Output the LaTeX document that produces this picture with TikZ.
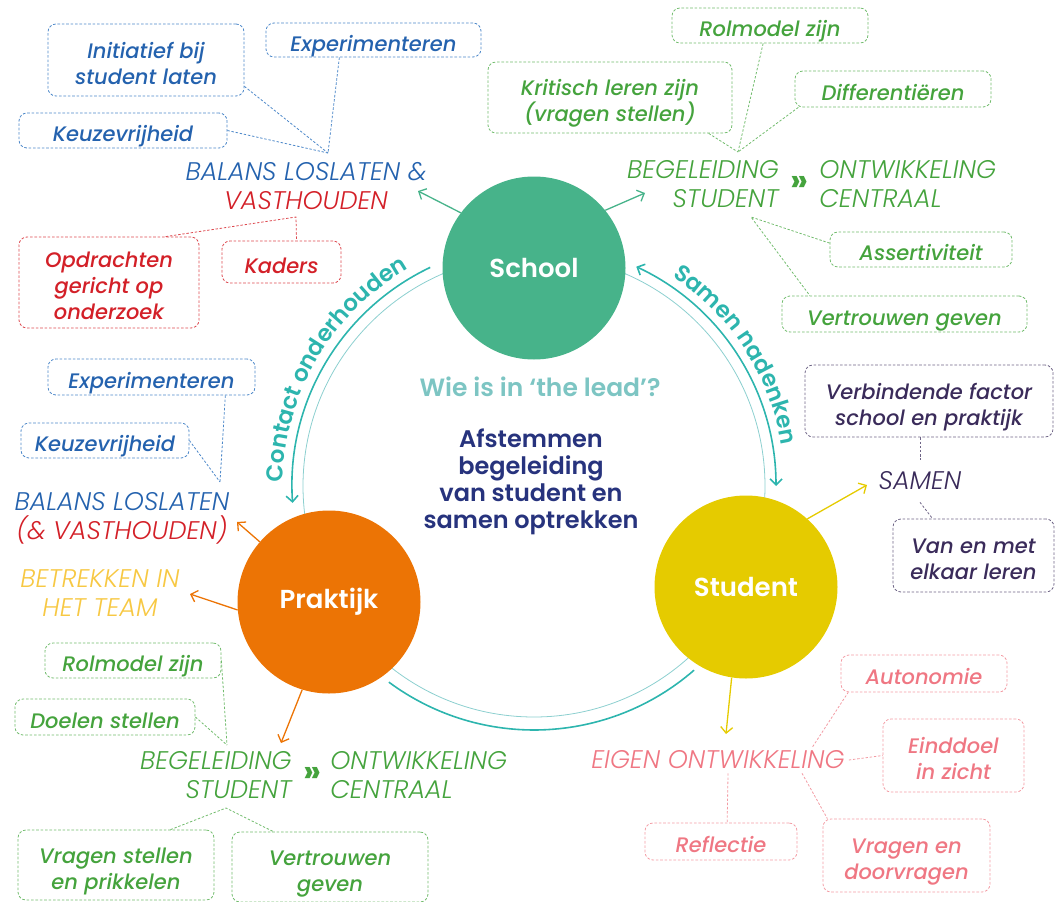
\documentclass[tikz,border=0pt]{standalone}
\usepackage{fontspec}
\setmainfont{Poppins}
\newfontfamily\lightfont{Poppins Light}[ItalicFont={Poppins Light Italic}]
\newfontfamily\semifont{Poppins SemiBold}
\newfontfamily\boxfont{Poppins Medium Italic}
\usetikzlibrary{arrows.meta,positioning,decorations.text}

\definecolor{tagblue}{HTML}{2462AE}
\definecolor{tagblueline}{HTML}{4D88C9}
\definecolor{tagred}{HTML}{D32028}
\definecolor{tagredline}{HTML}{DD4A50}
\definecolor{taggreen}{HTML}{45A33D}
\definecolor{taggreenline}{HTML}{72BC6D}
\definecolor{tagpink}{HTML}{EF7783}
\definecolor{tagpinkline}{HTML}{F39BA3}
\definecolor{tagpurple}{HTML}{3A2B5A}
\definecolor{tagpurpleline}{HTML}{6E6486}
\definecolor{teamyellow}{HTML}{F7C843}
\definecolor{arcteal}{HTML}{2DB5AE}
\definecolor{ringteal}{HTML}{8CCFCF}
\definecolor{leadteal}{HTML}{7DC5C3}
\definecolor{aimnavy}{HTML}{27337D}
\definecolor{schoolgreen}{HTML}{47B38A}
\definecolor{studentyellow}{HTML}{E5CB00}
\definecolor{praktijkorange}{HTML}{EC7405}

\newcommand{\arcfont}{\semifont\fontsize{23}{23}\selectfont}

\begin{document}
\begin{tikzpicture}[x=1pt,y=-1pt,
    notebox/.style={draw, dash pattern=on 2.6pt off 1.8pt, line width=0.8pt, rounded corners=8pt,
      align=center, inner sep=0pt, text height=22pt, text depth=0pt, font=\boxfont\fontsize{21}{26}\selectfont},
    twolines/.style={text height=48pt},
    threelines/.style={text height=74pt},
    bluebox/.style={notebox, draw=tagblueline, text=tagblue},
    redbox/.style={notebox, draw=tagredline, text=tagred},
    greenbox/.style={notebox, draw=taggreenline, text=taggreen},
    pinkbox/.style={notebox, draw=tagpinkline, text=tagpink},
    purplebox/.style={notebox, draw=tagpurpleline, text=tagpurple},
    boxsize/.style 2 args={minimum width=#1, minimum height=#2},
    link/.style={dash pattern=on 2.4pt off 1.8pt, line width=0.8pt},
    heading/.style={font=\lightfont\itshape\fontsize{25.5}{29}\selectfont, inner sep=0pt, align=center},
    hub/.style={circle, minimum size=183pt, inner sep=0pt, text=white, font=\fontsize{26}{30}\selectfont\semifont},
    pointer/.style={-{Straight Barb[length=6pt,width=12pt]}, line width=1.3pt},
    arcline/.style={draw=arcteal, line width=1.6pt},
    chevron/.style={font=\fontsize{32}{32}\selectfont\bfseries, text=taggreen, inner sep=0pt}
  ]
  \useasboundingbox (0,0) rectangle (1055,902);

  % ring and arcs
  \coordinate (ring) at (534,486);
  \draw[ringteal, line width=0.8pt] (ring) circle[radius=231];
  \draw[arcline, -{Straight Barb[length=6pt,width=12pt]}] (ring) ++(-115.4:242) arc[start angle=-115.4, end angle=-184, radius=242];
  \draw[arcline, {Straight Barb[length=6pt,width=12pt]}-{Straight Barb[length=6pt,width=12pt]}] (ring) ++(-65:242) arc[start angle=-65, end angle=0, radius=242];
  \draw[arcline] (ring) ++(126.5:244) arc[start angle=126.5, end angle=49, radius=244];
  \path[decorate, decoration={text along path, text align=center, text color=arcteal,
      text={|\arcfont|Contact onderhouden}}]
    (ring) ++(-189.5:251) arc[start angle=-189.5, end angle=-109.5, radius=251];
  \path[decorate, decoration={text along path, text align=center, text color=arcteal,
      text={|\arcfont|Samen nadenken}}]
    (ring) ++(-73:251) arc[start angle=-73, end angle=7, radius=251];

  % the three partners
  \node[hub, fill=schoolgreen] (school) at (534,268) {School};
  \node[hub, fill=studentyellow] (student) at (746,587) {Student};
  \node[hub, fill=praktijkorange] (praktijk) at (329,602) {Praktijk};

  % centre
  \node[font=\fontsize{25}{27}\selectfont\semifont, text=leadteal] (lead) at (540,387) {Wie is in ‘the lead’?};
  \node[font=\fontsize{24}{27}\selectfont\semifont, text=aimnavy, align=center] (aim) at (531,482)
    {Afstemmen\\begeleiding\\van student en\\samen optrekken};

  % school, left
  \node[heading] (balansA) at (306,186) {\textcolor{tagblue}{BALANS LOSLATEN \&}\\\textcolor{tagred}{VASTHOUDEN}};
  \node[bluebox, twolines, boxsize={196pt}{72pt}] (ini) at (146,60) {Initiatief bij\\student laten};
  \node[bluebox, boxsize={215pt}{34pt}] (expA) at (373.5,40) {Experimenteren};
  \node[bluebox, boxsize={208pt}{35pt}] (keuA) at (123,130.5) {Keuzevrijheid};
  \node[redbox, threelines, boxsize={180pt}{91pt}] (opd) at (109,282.5) {Opdrachten\\gericht op\\onderzoek};
  \node[redbox, boxsize={119pt}{42pt}] (kad) at (281.5,262) {Kaders};
  \coordinate (blueknotA) at (328,153);
  \coordinate (redknot) at (296,217);
  \draw[link, tagblueline] (ini.-15) -- (blueknotA);
  \draw[link, tagblueline] (expA.207) -- (blueknotA);
  \draw[link, tagblueline] (keuA.east) -- (blueknotA);
  \draw[link, tagredline] (opd.39) -- (redknot) -- (kad.55);
  \coordinate (balansAtip) at (418,191);
  \draw[pointer, schoolgreen] (school.143) -- (balansAtip);

  % school, right
  \node[chevron] (chevA) at (799,184) {»};
  \node[heading, text=taggreen, align=right, left=11pt of chevA] (begA) {BEGELEIDING\\STUDENT};
  \node[heading, text=taggreen, align=left, right=11pt of chevA] (ontA) {ONTWIKKELING\\CENTRAAL};
  \node[greenbox, boxsize={196pt}{35pt}] (rolA) at (770,25.5) {Rolmodel zijn};
  \node[greenbox, twolines, boxsize={244pt}{71pt}] (krit) at (610,97.5) {Kritisch leren zijn\\(vragen stellen)};
  \node[greenbox, boxsize={196pt}{36pt}] (diff) at (893,89) {Differentiëren};
  \node[greenbox, boxsize={182pt}{35pt}] (ass) at (921,249.5) {Assertiviteit};
  \node[greenbox, boxsize={245pt}{36pt}] (vert) at (904.5,314) {Vertrouwen geven};
  \coordinate (greenknotA) at (738,152);
  \coordinate (greenknotB) at (751,217);
  \draw[link, taggreenline] (rolA.-111) -- (greenknotA);
  \draw[link, taggreenline] (krit.-20.7) -- (greenknotA);
  \draw[link, taggreenline] (diff.191) -- (greenknotA);
  \draw[link, taggreenline] (ass.176) -- (greenknotB) -- (vert.169);
  \coordinate (begAtip) at (645,193);
  \draw[pointer, schoolgreen] (school.39) -- (begAtip);

  % praktijk
  \node[heading] (balansB) at (122,518) {\textcolor{tagblue}{BALANS LOSLATEN}\\\textcolor{tagred}{(\& VASTHOUDEN)}};
  \node[heading, text=teamyellow] (team) at (100,593) {BETREKKEN IN\\HET TEAM};
  \node[bluebox, boxsize={207pt}{36pt}] (expB) at (151.5,377) {Experimenteren};
  \node[bluebox, boxsize={168pt}{35pt}] (keuB) at (105,440.5) {Keuzevrijheid};
  \coordinate (blueknotB) at (220,482);
  \draw[link, tagblueline] (expB.-14.7) -- (blueknotB);
  \draw[link, tagblueline] (keuB.east) -- (blueknotB);
  \coordinate (balansBtip) at (237,522);
  \coordinate (teamtip) at (190,594);
  \draw[pointer, praktijkorange] (praktijk.139) -- (balansBtip);
  \draw[pointer, praktijkorange] (praktijk.185) -- (teamtip);

  \node[chevron] (chevB) at (312,775) {»};
  \node[heading, text=taggreen, align=right, left=11pt of chevB] (begB) {BEGELEIDING\\STUDENT};
  \node[heading, text=taggreen, align=left, right=9pt of chevB] (ontB) {ONTWIKKELING\\CENTRAAL};
  \node[greenbox, boxsize={176pt}{35pt}] (rolB) at (133,660.5) {Rolmodel zijn};
  \node[greenbox, boxsize={180pt}{36pt}] (doel) at (105,717) {Doelen stellen};
  \node[greenbox, twolines, boxsize={196pt}{70pt}] (vrst) at (116,865) {Vragen stellen\\en prikkelen};
  \node[greenbox, twolines, boxsize={196pt}{70pt}] (vrtr) at (330,867) {Vertrouwen\\geven};
  \coordinate (greenknotC) at (227,745);
  \coordinate (greenknotD) at (226,808);
  \draw[link, taggreenline] (rolB.east) -- (greenknotC);
  \draw[link, taggreenline] (doel.east) -- (greenknotC);
  \draw[link, taggreenline] (vrst.33) -- (greenknotD) -- (vrtr.148);
  \coordinate (begBtip) at (281,743);
  \draw[pointer, praktijkorange] (praktijk.-107) -- (begBtip);

  % student
  \node[heading, text=tagpurple, inner sep=12pt] (samen) at (920,481) {SAMEN};
  \node[purplebox, twolines, boxsize={248pt}{72pt}] (verb) at (929,401) {Verbindende factor\\school en praktijk};
  \node[purplebox, twolines, boxsize={161pt}{73pt}] (vanen) at (973.5,555.5) {Van en met\\elkaar leren};
  \draw[link, tagpurpleline] (samen.north |- verb.south) -- (samen.north);
  \draw[link, tagpurpleline] (samen.south) -- (vanen.138);
  \coordinate (samentip) at (867,485);
  \draw[pointer, studentyellow] (student.48) -- (samentip);

  \node[heading, text=tagpink, inner sep=4pt] (eigen) at (718,760) {EIGEN ONTWIKKELING};
  \node[pinkbox, boxsize={166pt}{37pt}] (auto) at (924,673.5) {Autonomie};
  \node[pinkbox, twolines, boxsize={141pt}{73pt}] (eind) at (953.5,755.5) {Einddoel\\in zicht};
  \node[pinkbox, boxsize={152pt}{37pt}] (refl) at (721,841.5) {Reflectie};
  \node[pinkbox, twolines, boxsize={167pt}{73pt}] (vrdo) at (906.5,855.5) {Vragen en\\doorvragen};
  \draw[link, tagpinkline] (eigen.8) -- (auto.194);
  \draw[link, tagpinkline] (eigen.east) -- (eind.west);
  \draw[link, tagpinkline] (eigen.-53) -- (refl.72);
  \draw[link, tagpinkline] (eigen.-9) -- (vrdo.155);
  \coordinate (eigentip) at (726,734);
  \draw[pointer, studentyellow] (student.-99) -- (eigentip);
\end{tikzpicture}
\end{document}
